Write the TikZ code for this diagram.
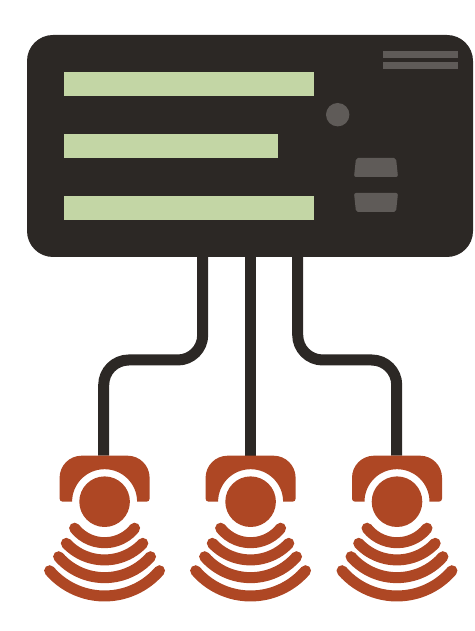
\documentclass[tikz,border=0pt]{standalone}
\definecolor{casecol}{HTML}{2C2825}
\definecolor{barcol}{HTML}{C3D6A5}
\definecolor{greycol}{HTML}{5F5B58}
\definecolor{redcol}{HTML}{AE4724}
\tikzset{
  casebox/.style={fill=casecol,rounded corners=26pt,inner sep=0pt,minimum width=446pt,minimum height=222pt},
  screenbar/.style={fill=barcol,inner sep=0pt,minimum height=24pt,anchor=north west},
  ventbar/.style={fill=greycol,inner sep=0pt,minimum width=75pt,minimum height=7pt,anchor=north west},
  knob/.style={fill=greycol,circle,inner sep=0pt,minimum size=23.4pt},
  wire/.style={draw=casecol,line width=11pt,rounded corners=25pt},
  wave/.style={draw=redcol,line width=11pt,line cap=round},
  sensor/.pic={
    \fill[redcol] (-32.5,0) arc[start angle=180,end angle=0,radius=32.5] -- (42,0)
      arc[start angle=-90,end angle=0,radius=3] -- (45,24)
      arc[start angle=0,end angle=90,radius=22] -- (-23,46)
      arc[start angle=90,end angle=180,radius=22] -- (-45,3)
      arc[start angle=180,end angle=270,radius=3] -- cycle;
    \fill[redcol] (0,0) circle[radius=25.3];
    \draw[wave] (-30,-26.5) arc[start angle=218.4,end angle=321.6,radius=38.3];
    \draw[wave] (-38.3,-41.6) arc[start angle=223,end angle=317,radius=52.3];
    \draw[wave] (-46,-55) arc[start angle=221,end angle=319,radius=60.9];
    \draw[wave] (-55,-69) arc[start angle=220.6,end angle=319.4,radius=72.4];
  }
}
\begin{document}
\begin{tikzpicture}[x=1pt,y=1pt]
\useasboundingbox (0,0) rectangle (474,631);
% connectors' anchors
\coordinate (s1) at (103.7,175.3);
\coordinate (s2) at (250,175.3);
\coordinate (s3) at (396.7,175.3);
\coordinate (p1) at (202.7,374);
\coordinate (p2) at (250,374);
\coordinate (p3) at (297.7,374);
\coordinate (mid) at (250,271);
% connectors
\draw[wire] (p1) -- (p1 |- mid) -- (s1 |- mid) -- (s1);
\draw[wire] (p2) -- (s2);
\draw[wire] (p3) -- (p3 |- mid) -- (s3 |- mid) -- (s3);
% case
\node[casebox] (case) at (250,485) {};
\node[screenbar,minimum width=250pt] (bar1) at (64,559) {};
\node[screenbar,minimum width=214pt] (bar2) at (64,497) {};
\node[screenbar,minimum width=250pt] (bar3) at (64,435) {};
\node[ventbar] (vent1) at (383,580) {};
\node[ventbar] (vent2) at (383,569) {};
\node[knob] (knob1) at (337.7,516.3) {};
\fill[greycol,rounded corners=2pt] (356,473) -- (396,473) -- (398,454) -- (354,454) -- cycle;
\fill[greycol,rounded corners=2pt] (354,438) -- (398,438) -- (396,419) -- (356,419) -- cycle;
% sensors
\pic at (104.6,129.3) {sensor};
\pic at (250.6,129.3) {sensor};
\pic at (397,129.3) {sensor};
\end{tikzpicture}
\end{document}
